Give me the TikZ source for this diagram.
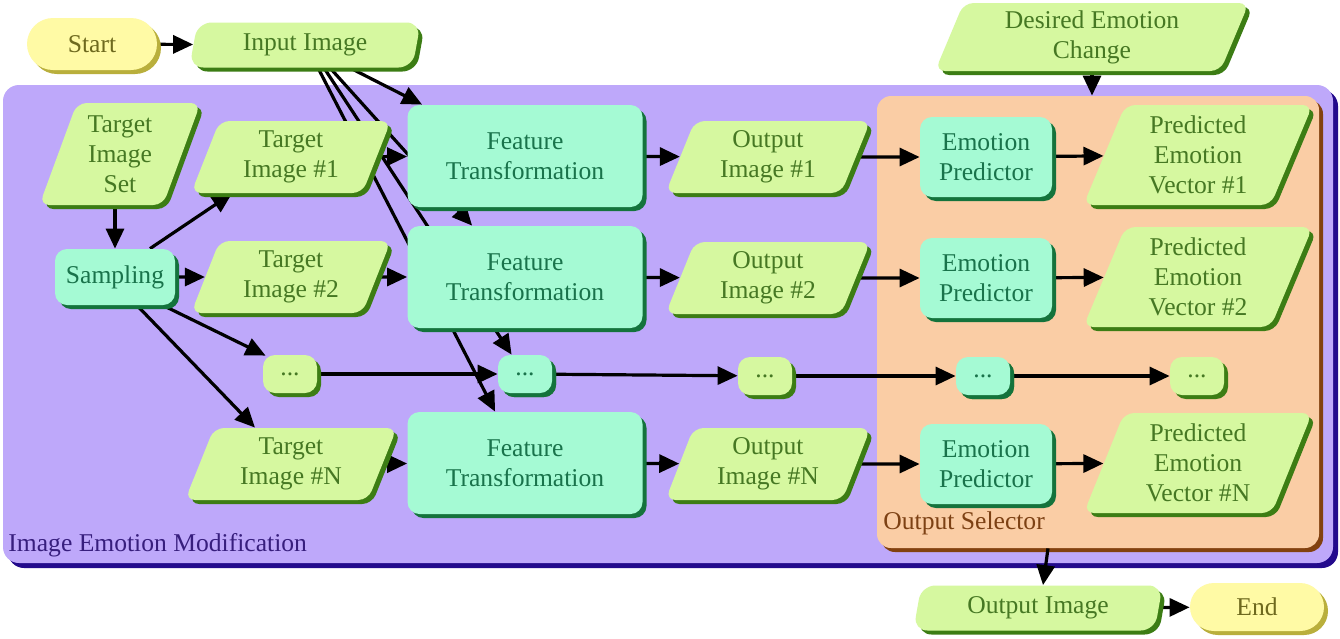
\documentclass[tikz,border=0pt]{standalone}
\usepackage{fontspec}
\setmainfont{Liberation Serif}
\usetikzlibrary{shapes.geometric,shapes.misc,shadows,calc,arrows.meta}
\pgfdeclarelayer{bg}
\pgfdeclarelayer{edges}
\pgfsetlayers{bg,edges,main}
\definecolor{purplefill}{RGB}{190,168,250}
\definecolor{purpleshadow}{RGB}{35,10,140}
\definecolor{orangefill}{RGB}{250,205,165}
\definecolor{orangeshadow}{RGB}{130,65,15}
\definecolor{greenfill}{RGB}{214,248,160}
\definecolor{greentext}{RGB}{70,120,35}
\definecolor{greenshadow}{RGB}{60,125,20}
\definecolor{tealfill}{RGB}{165,250,212}
\definecolor{tealtext}{RGB}{25,115,75}
\definecolor{tealshadow}{RGB}{20,115,60}
\definecolor{yellowfill}{RGB}{255,250,165}
\definecolor{yellowtext}{RGB}{110,105,30}
\definecolor{yellowshadow}{RGB}{185,175,60}
\definecolor{purpletext}{RGB}{55,30,125}
\definecolor{orangetext}{RGB}{125,65,20}
\tikzset{
  every node/.style={font=\fontsize{12.8}{15}\selectfont, align=center, inner sep=0pt},
  para/.style={trapezium, trapezium left angle=70, trapezium right angle=110,
    trapezium stretches=true, rounded corners=5pt, fill=greenfill, text=greentext,
    drop shadow={shadow xshift=2pt, shadow yshift=-2pt, fill=greenshadow, opacity=1}},
  flatpara/.style={para, trapezium left angle=78, trapezium right angle=102, rounded corners=7pt},
  proc/.style={rectangle, rounded corners=6pt, fill=tealfill, text=tealtext,
    drop shadow={shadow xshift=2pt, shadow yshift=-2pt, fill=tealshadow, opacity=1}},
  gdots/.style={rectangle, rounded corners=6pt, fill=greenfill, text=greentext,
    minimum width=27pt, minimum height=19pt,
    drop shadow={shadow xshift=2pt, shadow yshift=-2pt, fill=greenshadow, opacity=1}},
  tdots/.style={gdots, fill=tealfill, text=tealtext,
    drop shadow={shadow xshift=2pt, shadow yshift=-2pt, fill=tealshadow, opacity=1}},
  term/.style={rounded rectangle, fill=yellowfill, text=yellowtext,
    drop shadow={shadow xshift=2pt, shadow yshift=-2pt, fill=yellowshadow, opacity=1}},
  arr/.style={line width=1.6pt, -{Triangle[length=10pt,width=9pt]}},
}
\begin{document}
\begin{tikzpicture}[x=0.5pt,y=-0.5pt]
\useasboundingbox (0,0) rectangle (1340,638);

% containers
\begin{pgfonlayer}{bg}
\fill[white] (0,0) rectangle (1340,638);
\node[rectangle, rounded corners=8pt, fill=purplefill, minimum width=665pt, minimum height=239pt,
  drop shadow={shadow xshift=2.5pt, shadow yshift=-2.5pt, fill=purpleshadow, opacity=1}] (iem) at (668,324) {};
\node[rectangle, rounded corners=7pt, fill=orangefill, minimum width=221pt, minimum height=226pt,
  drop shadow={shadow xshift=2pt, shadow yshift=-2pt, fill=orangeshadow, opacity=1}] (sel) at (1098,322) {};
\end{pgfonlayer}

\node[anchor=west, text=purpletext] (iemlabel) at (8,545) {Image Emotion Modification};
\node[anchor=west, text=orangetext] (sellabel) at (883,523) {Output Selector};

% top
\node[term, minimum width=65pt, minimum height=26pt] (start) at (92,44) {Start};
\node[flatpara, minimum width=116pt, minimum height=22.5pt] (input) at (305,45) {Input Image};
\node[para, minimum width=157pt, minimum height=34pt] (dec) at (1092,37) {Desired Emotion\\Change};

% left column
\node[para, minimum width=81pt, minimum height=51pt] (tis) at (120,154) {Target\\Image\\Set};
\node[proc, minimum width=60pt, minimum height=28pt] (samp) at (115,277) {Sampling};

% targets
\node[para, minimum width=100pt, minimum height=36pt] (t1) at (291,157) {Target\\Image \#1};
\node[para, minimum width=100pt, minimum height=36pt] (t2) at (291,277) {Target\\Image \#2};
\node[gdots] (d1) at (290,374) {...};
\node[para, minimum width=106pt, minimum height=36pt] (tn) at (291,464) {Target\\Image \#N};

% feature transformations
\node[proc, minimum width=117.5pt, minimum height=51pt] (ft1) at (525,156) {Feature\\Transformation};
\node[proc, minimum width=117.5pt, minimum height=51pt] (ft2) at (525,277) {Feature\\Transformation};
\node[tdots] (d2) at (525,374) {...};
\node[proc, minimum width=117.5pt, minimum height=51pt] (ftn) at (525,463) {Feature\\Transformation};

% outputs
\node[para, minimum width=102.5pt, minimum height=36pt] (o1) at (768,157) {Output\\Image \#1};
\node[para, minimum width=102.5pt, minimum height=36pt] (o2) at (768,278) {Output\\Image \#2};
\node[gdots] (d3) at (765,376) {...};
\node[para, minimum width=102.5pt, minimum height=36pt] (on) at (768,464) {Output\\Image \#N};

% emotion predictors
\node[proc, minimum width=66pt, minimum height=40pt] (ep1) at (986,157) {Emotion\\Predictor};
\node[proc, minimum width=66pt, minimum height=40pt] (ep2) at (986,278) {Emotion\\Predictor};
\node[tdots] (d4) at (983,376) {...};
\node[proc, minimum width=66pt, minimum height=40pt] (epn) at (986,464) {Emotion\\Predictor};

% predicted vectors
\node[para, minimum width=115pt, minimum height=50pt] (p1) at (1198,155) {Predicted\\Emotion\\Vector \#1};
\node[para, minimum width=115pt, minimum height=50pt] (p2) at (1198,277) {Predicted\\Emotion\\Vector \#2};
\node[gdots] (d5) at (1197,376) {...};
\node[para, minimum width=115pt, minimum height=50pt] (pn) at (1198,463) {Predicted\\Emotion\\Vector \#N};

% bottom
\node[flatpara, minimum width=125pt, minimum height=22.5pt] (outimg) at (1038,608) {Output Image};
\node[term, minimum width=67pt, minimum height=24pt] (end) at (1257,607) {End};

% connectors
\begin{pgfonlayer}{edges}
\draw[arr] (start) -- (input);
\draw[arr] ($(input.south)+(45,0)$) -- ($(ft1.north west)+(15,0)$);
\draw[arr] ($(input.south)+(25,0)$) -- ($(ft2.north west)+(65,0)$);
\draw[arr] ($(input.south)+(19,0)$) -- ($(d2.north west)+(14,0)$);
\draw[arr] ($(input.south)+(13,0)$) -- ($(ftn.north west)+(88,0)$);

\draw[arr] (samp.north |- tis.south) -- (samp.north);
\draw[arr] ($(samp.north)+(35,0)$) -- ($(t1.south)+(-59,0)$);
\draw[arr] (samp) -- (t2);
\draw[arr] ($(samp.south)+(48,0)$) -- ($(d1.north west)+(3,1)$);
\draw[arr] ($(samp.south)+(22,0)$) -- ($(tn.north)+(-36,0)$);

\draw[arr] (t1) -- (ft1);
\draw[arr] (t2) -- (ft2);
\draw[arr] (tn) -- (ftn);
\draw[arr] (d1) -- (d2);
\draw[arr] (d2) -- (d3);
\draw[arr] (d3) -- (d4);
\draw[arr] (d4) -- (d5);

\draw[arr] (ft1) -- (o1);
\draw[arr] (ft2) -- (o2);
\draw[arr] (ftn) -- (on);
\draw[arr] (o1) -- (ep1);
\draw[arr] (o2) -- (ep2);
\draw[arr] (on) -- (epn);
\draw[arr] (ep1) -- (p1);
\draw[arr] (ep2) -- (p2);
\draw[arr] (epn) -- (pn);

\draw[arr] (dec.south) -- (dec.south |- sel.north);
\draw[arr] ($(sel.south)+(-50,0)$) -- ($(outimg.north)+(5,0)$);
\draw[arr] (outimg) -- (end);
\end{pgfonlayer}
\end{tikzpicture}
\end{document}
